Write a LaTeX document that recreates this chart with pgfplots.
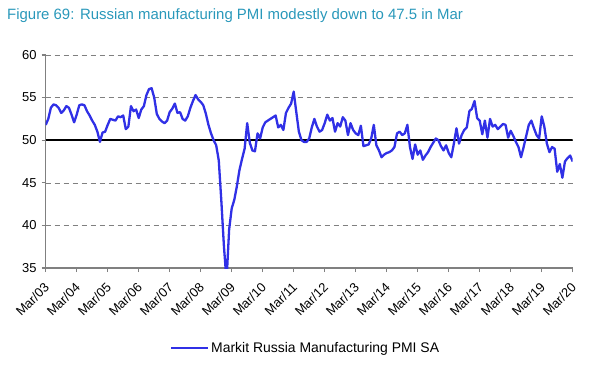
\documentclass[border=0pt]{standalone}
\usepackage{pgfplots}
\pgfplotsset{compat=1.18}
\usepackage{pgfplotstable}
\usepackage{fontspec}
\setmainfont{Liberation Sans}
\definecolor{titleblue}{RGB}{41,152,186}
\definecolor{pmiblue}{RGB}{48,48,230}
\definecolor{axgray}{RGB}{128,128,128}
\pgfplotstableread{
m v
0 51.8
1 52.5
2 53.8
3 54.2
4 54.1
5 53.8
6 53.2
7 53.5
8 54.0
9 53.8
10 53.0
11 52.1
12 53.0
13 54.1
14 54.2
15 54.1
16 53.4
17 52.9
18 52.3
19 51.8
20 51.0
21 49.8
22 50.9
23 51.0
24 51.8
25 52.5
26 52.4
27 52.3
28 52.8
29 52.7
30 52.9
31 51.3
32 51.6
33 54.0
34 53.4
35 53.6
36 52.6
37 53.6
38 54.0
39 55.3
40 56.0
41 56.1
42 55.0
43 53.1
44 52.5
45 52.2
46 52.0
47 52.3
48 53.3
49 53.7
50 54.3
51 53.2
52 53.3
53 52.5
54 52.3
55 52.8
56 53.8
57 54.6
58 55.3
59 54.8
60 54.5
61 54.1
62 53.1
63 51.8
64 50.8
65 50.0
66 49.4
67 47.6
68 42.8
69 37.5
70 33.5
71 39.5
72 42.0
73 43.0
74 44.6
75 46.5
76 47.8
77 49.0
78 52.0
79 49.7
80 48.8
81 48.7
82 50.8
83 50.2
84 51.5
85 52.1
86 52.3
87 52.5
88 52.7
89 52.9
90 51.5
91 51.8
92 51.2
93 53.2
94 53.8
95 54.3
96 55.7
97 53.3
98 51.0
99 50.0
100 49.8
101 49.8
102 50.2
103 51.5
104 52.5
105 51.6
106 51.0
107 51.2
108 52.0
109 53.0
110 52.3
111 52.6
112 51.0
113 52.0
114 51.6
115 52.7
116 52.3
117 50.6
118 52.0
119 51.2
120 50.8
121 50.6
122 51.7
123 49.3
124 49.4
125 49.5
126 50.2
127 51.8
128 49.4
129 48.8
130 48.0
131 48.3
132 48.5
133 48.6
134 48.8
135 49.2
136 50.8
137 51.0
138 50.6
139 50.8
140 51.8
141 49.2
142 47.8
143 49.5
144 48.3
145 48.8
146 47.7
147 48.2
148 48.6
149 49.2
150 49.7
151 50.2
152 50.0
153 49.3
154 48.8
155 49.4
156 48.5
157 48.0
158 49.6
159 51.4
160 49.6
161 50.6
162 51.2
163 51.5
164 53.4
165 53.7
166 54.6
167 52.6
168 52.3
169 50.7
170 52.3
171 50.3
172 52.5
173 51.6
174 51.8
175 51.3
176 51.6
177 51.9
178 51.8
179 50.3
180 51.1
181 50.5
182 49.8
183 49.2
184 48.0
185 49.2
186 50.5
187 51.8
188 52.3
189 51.4
190 50.6
191 50.2
192 52.8
193 51.6
194 49.6
195 48.6
196 49.2
197 49.0
198 46.3
199 47.2
200 45.6
201 47.5
202 47.9
203 48.2
204 47.5
}\pmidata
\begin{document}
\begin{tikzpicture}[x=1bp,y=1bp]
\path[use as bounding box] (0,0) rectangle (613,368);
\node[anchor=west, text=titleblue, font=\fontsize{15}{18}\selectfont, inner sep=0pt] at (7,352) {Figure 69: Russian manufacturing PMI modestly down to 47.5 in Mar};
\begin{axis}[
  at={(45.7bp,100bp)}, anchor=south west,
  scale only axis, width=527bp, height=213bp,
  xmin=0, xmax=204, ymin=35, ymax=60,
  axis x line*=bottom, axis y line*=left,
  axis line style={axgray, line width=1.3pt, -},
  xtick={0,12,...,204},
  xticklabels={Mar/03,Mar/04,Mar/05,Mar/06,Mar/07,Mar/08,Mar/09,Mar/10,Mar/11,Mar/12,Mar/13,Mar/14,Mar/15,Mar/16,Mar/17,Mar/18,Mar/19,Mar/20},
  ytick={35,40,...,60},
  tick align=outside, major tick length=4bp,
  tick style={axgray, line width=1.1pt},
  ymajorgrids, grid style={axgray, dashed, line width=0.6pt, dash pattern=on 5bp off 4bp},
  xticklabel style={rotate=45, anchor=north east, inner sep=0pt, xshift=-8.5bp, yshift=-5bp, font=\fontsize{13}{15}\selectfont},
  yticklabel style={font=\fontsize{13}{15}\selectfont, inner sep=1pt, xshift=-4bp},
  /pgf/number format/assume math mode=true,
  legend style={at={(0.493,-0.376)}, anchor=center, draw=none, fill=none, font=\fontsize{14}{16}\selectfont, inner sep=0pt},
  legend image code/.code={\draw[#1] (0bp,0bp) -- (37bp,0bp);},
  clip=true,
]
\addplot[black, line width=2.6bp, forget plot] coordinates {(0,50) (204,50)};
\addplot[pmiblue, line width=2.3bp, line join=round] table[x=m, y=v] {\pmidata};
\addlegendentry{Markit Russia Manufacturing PMI SA}
\end{axis}
\end{tikzpicture}
\end{document}
